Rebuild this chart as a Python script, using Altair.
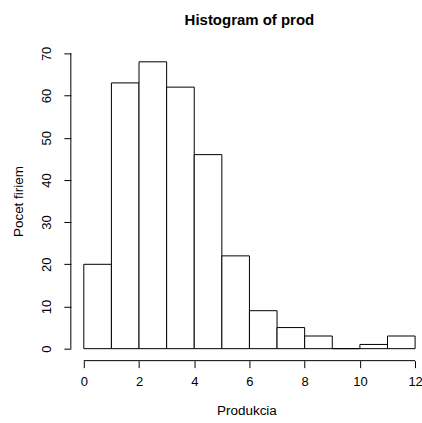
import altair as alt
import pandas as pd

bin_start = [0, 1, 2, 3, 4, 5, 6, 7, 8, 9, 10, 11]
bin_end = [1, 2, 3, 4, 5, 6, 7, 8, 9, 10, 11, 12]
counts = [20, 63, 68, 62, 46, 22, 9, 5, 3, 0, 1, 3]
x_ticks = [0, 2, 4, 6, 8, 10, 12]
y_ticks = [0, 10, 20, 30, 40, 50, 60, 70]

df = pd.DataFrame({"start": bin_start, "end": bin_end, "count": counts})

XMIN, XMAX = -0.47, 12.25
YMIN, YMAX = -2.84, 72.84
FONT = "Liberation Sans"

xscale = alt.Scale(domain=[XMIN, XMAX], nice=False, zero=False)
yscale = alt.Scale(domain=[YMIN, YMAX], nice=False, zero=False)

bars = alt.Chart(df).mark_rect(fill="white", stroke="black", strokeWidth=1).encode(
    x=alt.X("start:Q", scale=xscale,
            axis=alt.Axis(values=x_ticks, domain=False, grid=False, tickSize=7,
                          tickColor="black", labelFontSize=13, labelFont=FONT,
                          labelColor="black", labelPadding=8, title="Produkcia",
                          titleFont=FONT, titleFontSize=13.5, titleFontWeight="normal",
                          titleColor="black", titlePadding=15)),
    x2="end:Q",
    y=alt.Y("zero:Q", scale=yscale,
            axis=alt.Axis(values=y_ticks, domain=False, grid=False, tickSize=7,
                          tickColor="black", labelFontSize=13, labelFont=FONT,
                          labelColor="black", labelAngle=-90, labelAlign="center",
                          labelBaseline="bottom", labelPadding=10,
                          title="Pocet firiem", titleFont=FONT, titleFontSize=13.5,
                          titleFontWeight="normal", titleColor="black", titlePadding=15)),
    y2="count:Q",
).transform_calculate(zero="0")

xline = alt.Chart(pd.DataFrame({"a": [x_ticks[0]], "b": [x_ticks[-1]], "y": [YMIN]})).mark_rule(
    color="black", strokeWidth=1).encode(
    x=alt.X("a:Q", scale=xscale), x2="b:Q", y=alt.Y("y:Q", scale=yscale))

yline = alt.Chart(pd.DataFrame({"a": [y_ticks[0]], "b": [y_ticks[-1]], "x": [XMIN]})).mark_rule(
    color="black", strokeWidth=1).encode(
    y=alt.Y("a:Q", scale=yscale), y2="b:Q", x=alt.X("x:Q", scale=xscale))

chart = alt.layer(bars, xline, yline).properties(
    width=352, height=320,
    background="white",
    title=alt.TitleParams("Histogram of prod", font=FONT, fontSize=15, fontWeight="bold",
                          color="black", anchor="middle", offset=13, dx=3),
    autosize=alt.AutoSizeParams(type="none"),
    padding={"left": 71, "top": 41, "right": 0, "bottom": 62},
).configure_view(stroke=None, strokeWidth=0)

chart.save("out.html", embed_options={"renderer": "svg", "actions": False})
